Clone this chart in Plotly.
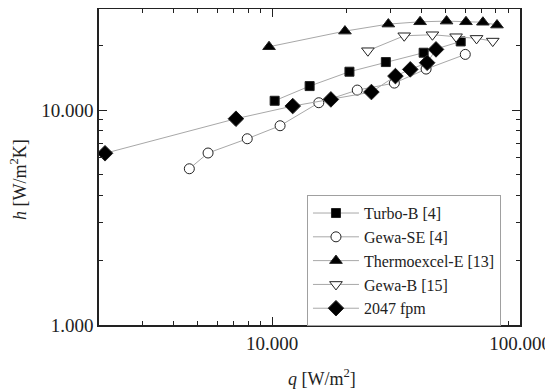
import plotly.graph_objects as go

# ---- data (q [W/m2], h [W/m2K]) ----
turbo_q = [10230, 14160, 20500, 28750, 40850, 57640]
turbo_h = [11040, 12920, 15070, 16710, 18470, 20840]

gewase_q = [4630, 5510, 7930, 10760, 15420, 22040, 31110, 41780, 60140]
gewase_h = [5330, 6310, 7350, 8450, 10810, 12380, 13340, 15500, 18140]

thermo_q = [9710, 19660, 29420, 39520, 50540, 60530, 70850, 80760]
thermo_h = [19690, 23280, 25100, 25720, 25910, 25720, 25600, 24830]

gewab_q = [24330, 34100, 44320, 55210, 66780, 77640]
gewab_h = [18870, 22150, 22390, 21920, 21530, 20920]

fpm_q = [2115, 7140, 12100, 17250, 25140, 31430, 36070, 42200, 45810]
fpm_h = [6290, 9110, 10430, 11200, 12120, 14380, 15450, 16590, 19140]

x_tickvals = [10000, 100000]
x_ticktext = ["10.000", "100.000"]
y_tickvals = [1000, 10000]
y_ticktext = ["1.000", "10.000"]

series = [
    ("Turbo-B [4]", turbo_q, turbo_h, "square", 9, "black"),
    ("Gewa-SE [4]", gewase_q, gewase_h, "circle", 10, "white"),
    ("Thermoexcel-E [13]", thermo_q, thermo_h, "triangle-up", 11, "black"),
    ("Gewa-B [15]", gewab_q, gewab_h, "triangle-down", 11, "white"),
    ("2047 fpm", fpm_q, fpm_h, "diamond", 12, "black"),
]

FONT = "Liberation Serif, serif"

fig = go.Figure()
for name, xs, ys, sym, sz, fill in series:
    fig.add_trace(go.Scatter(
        x=xs, y=ys, name=name, mode="lines+markers",
        line=dict(color="#a8a8a8", width=1),
        marker=dict(symbol=sym, size=sz, color=fill,
                    line=dict(color="#222222", width=1)),
    ))

minor_x = [3000, 4000, 5000, 6000, 7000, 8000, 9000,
           20000, 30000, 40000, 50000, 60000, 70000, 80000, 90000]
minor_y = [2000, 3000, 4000, 5000, 6000, 7000, 8000, 9000, 20000]

# the page body has an 8px margin, so the figure is shrunk by 8px
fig.update_layout(
    width=545, height=381,
    margin=dict(l=91, r=33, t=1, b=64),
    paper_bgcolor="white", plot_bgcolor="white",
    font=dict(family=FONT, size=18, color="#222222"),
    showlegend=True,
    legend=dict(
        x=0.494, y=0.411, xanchor="left", yanchor="top",
        bordercolor="#a0a0a0", borderwidth=1, bgcolor="white",
        font=dict(family=FONT, size=16, color="#222222"),
        itemsizing="trace", tracegroupgap=0, itemwidth=46,
    ),
    xaxis=dict(
        type="log", range=[3.30103, 5.0], automargin=False,
        tickmode="array", tickvals=x_tickvals, ticktext=x_ticktext,
        ticks="inside", ticklen=8, tickwidth=1, tickcolor="#222222",
        showline=True, linecolor="#222222", linewidth=1.5, mirror="allticks",
        showgrid=False, zeroline=False,
        minor=dict(tickvals=minor_x, ticks="inside", ticklen=4,
                   tickcolor="#222222", showgrid=False),
        tickfont=dict(family=FONT, size=19),
    ),
    yaxis=dict(
        type="log", range=[3.0, 4.4698], automargin=False,
        tickmode="array", tickvals=y_tickvals, ticktext=y_ticktext,
        ticks="inside", ticklen=8, tickwidth=1, tickcolor="#222222",
        showline=True, linecolor="#222222", linewidth=1.5, mirror="allticks",
        showgrid=False, zeroline=False,
        minor=dict(tickvals=minor_y, ticks="inside", ticklen=4,
                   tickcolor="#222222", showgrid=False),
        tickfont=dict(family=FONT, size=19),
    ),
    annotations=[
        dict(text="<i>q</i> [W/m<sup>2</sup>]", xref="paper", yref="paper",
             x=0.53, y=-0.165, xanchor="center", yanchor="middle",
             showarrow=False, font=dict(family=FONT, size=18)),
        dict(text="<i>h</i> [W/m<sup>2</sup>K]", xref="paper", yref="paper",
             x=-0.19, y=0.459, xanchor="center", yanchor="middle",
             textangle=-90, showarrow=False, font=dict(family=FONT, size=18)),
    ],
)

fig.write_html("out.html")
